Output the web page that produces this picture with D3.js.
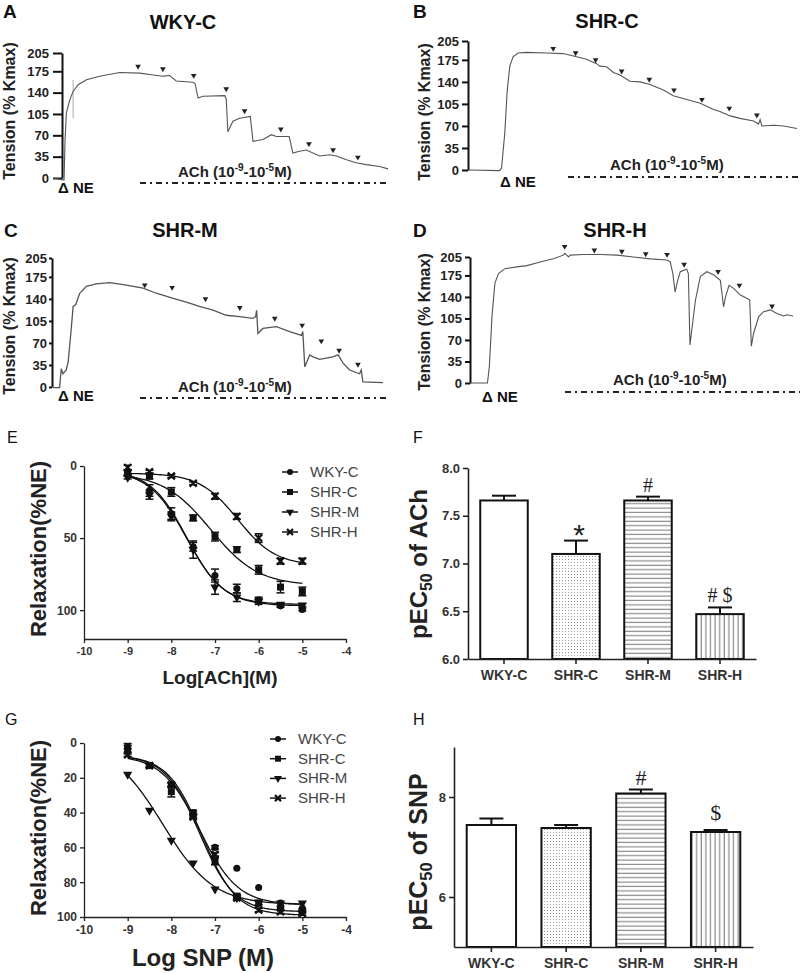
<!DOCTYPE html>
<html><head><meta charset="utf-8">
<script src="https://cdn.jsdelivr.net/npm/d3@7"></script>
<style>body{margin:0;background:#fff}</style>
</head><body><svg id="c" width="800" height="973"></svg>
<script>
// ---------------- DATA ----------------
const tensionTicks = [0, 35, 70, 105, 140, 175, 205];
const groups = ["WKY-C", "SHR-C", "SHR-M", "SHR-H"];

// Isometric tension traces (time as % of record length, tension as % Kmax)
const traceA_t = [0,3.0,3.3,3.6,4.0,5.0,6.0,7.5,10.0,13.9,19.9,25.9,29.9,32.8,34.8,36.8,41.8,42.4,43.3,44.8,51.3,51.7,52.2,53.7,55.7,58.9,59.7,62.7,65.2,66.7,70.5,71.6,73.6,75.6,79.6,82.6,84.6,87.6,90.5,93.5,97.5,100];
const traceA_v = [0,-3,-3,63,107,128,142,153,161,167,173,172,169,167,168,159,157,155,131,134,135,130,76,93,98,101,60,63,71,68,68,41,44,46,36,38,36,30,25,22,19,15];
const arrowA_t = [25.4,32.8,42.0,51.7,57.2,68.0,76.4,83.6,91.0];
const arrowA_v = [183,179,168,146,110,80,56,46,34];

const traceB_t = [0,9.6,10.2,11.2,11.9,12.7,13.7,15.2,17.8,23.9,28.9,33.0,36.0,39.1,40.1,42.1,44.2,46.2,49.2,52.3,55.3,59.4,62.4,66.5,70.6,74.6,76.6,79.7,82.7,86.8,88.3,88.8,89.3,92.9,95.9,100];
const traceB_v = [0,-1,3,60,125,165,180,186,187,186,185,180,176,169,165,164,155,151,141,140,136,127,118,112,106,96,93,86,82,78,73,80,70,71,70,66];
const arrowB_t = [25.9,32.7,38.8,46.7,55.1,62.6,71.1,79.4,87.8];
const arrowB_v = [193,186,175,157,144,127,112,98,87];

const traceC_t = [0,2.0,2.5,3.0,4.0,4.6,5.4,6.1,6.9,8.1,10.1,13.1,17.2,22.2,27.3,31.3,36.4,40.4,44.4,48.5,52.5,56.6,60.6,61.4,61.7,62.1,63.6,67.7,71.7,75.3,75.7,76.3,77.8,78.8,80.8,84.8,86.4,87.9,89.9,92.9,93.4,93.9,100];
const traceC_v = [-1,-1,29,21,27,40,85,128,131,149,160,164,166,162,157,149,141,135,128,122,114,112,109,112,122,85,93,96,88,82,88,32,51,48,44,48,51,38,27,21,27,8,7];
const arrowC_t = [27.8,36.1,46.2,56.6,67.2,75.5,81.3,86.7,92.4];
const arrowC_v = [162,158,140,126,109,98,73,58,36];

const traceD_t = [0,5.4,6.0,6.8,7.7,8.8,10.8,14.5,17.6,21.7,25.8,28.9,29.4,30.5,31.0,35.1,40.3,45.5,50.6,55.8,60.9,62.0,62.8,63.5,64.3,65.1,67.1,67.6,68.1,68.8,69.8,71.3,73.3,75.4,77.5,78.0,78.5,79.1,80.2,81.6,83.7,85.7,86.6,87.1,87.8,89.4,90.9,93.0,95.0,97.1,98.1,100];
const traceD_v = [0,0,27,108,162,178,186,189,191,197,202,208,211,205,208,209,209,208,205,202,200,197,178,148,167,181,185,178,62,92,135,173,181,176,167,146,124,140,159,154,143,138,135,60,81,108,116,119,113,109,111,109];
const arrowD_t = [29.3,38.5,47.0,54.4,61.0,66.3,76.8,83.4,93.5];
const arrowD_v = [222,216,214,210,209,193,181,159,125];

// Concentration-response (E: ACh, G: SNP)
const logConc = [-9,-8.5,-8,-7.5,-7,-6.5,-6,-5.5,-5];
const achWKYC = [4.6,17,33,56,76,85,93,97,99.5];
const achSHRC = [5,7,18,36,49,58,72,84,87];
const achSHRM = [8,20,35,58,84,91,94,96,96.5];
const achSHRH = [1,4,7,12,21,35,50,66,66];
const achWKYC_err = [1.5,4,4,3,4.5,3,2,1,1];
const achSHRC_err = [2,2,3,2,3,2,3,4,3];
const achSHRM_err = [1,3,3,6,5,3,2,1,1];
const achSHRH_err = [1.5,1,1,1,2,2,3,2,2];
const achTop = [3,5,3,5];
const achBottom = [97,83,96,69];
const achLogEC50 = [-7.65,-7.1,-7.65,-6.48];
const achHill = [1,0.8,1.05,1];

const snpWKYC = [2.3,12.8,24,41.6,60,72,83,92,95];
const snpSHRC = [3.3,13,28,40,68,88,92,95,96.5];
const snpSHRM = [18,38.7,56,69,84,89,91.4,92,92];
const snpSHRH = [6.7,13,24,42.5,64,89,96,97,98];
const snpWKYC_err = [1,1,1,1,1,0,0,0,0];
const snpSHRC_err = [3,1,3,1,2,1,1,1,1];
const snpSHRM_err = [0,0,0,0,0,0,0,0,0];
const snpSHRH_err = [1,1,1,1,1,1,1,1,1];
const snpTop = [7,7,0,7];
const snpBottom = [93,97,93,99];
const snpLogEC50 = [-7.35,-7.35,-8.2,-7.3];
const snpHill = [1,1.1,0.75,1.1];

// pEC50 bar charts (F: ACh, H: SNP)
const pec50ACh = [7.66,7.10,7.66,6.47];
const pec50ACh_err = [0.05,0.14,0.04,0.07];
const pec50ACh_sig = ["", "*", "#", "# $"];
const pec50SNP = [7.44,7.38,8.07,7.30];
const pec50SNP_err = [0.13,0.06,0.08,0.04];
const pec50SNP_sig = ["", "", "#", "$"];

// ---------------- DRAWING ----------------
const FONT = "Liberation Sans, Arial, sans-serif";
const SERIF = "Liberation Serif, Times New Roman, serif";
const svg = d3.select("#c").attr("font-family", FONT);
svg.append("rect").attr("width", 800).attr("height", 973).attr("fill", "#fff");

// patterns
const defs = svg.append("defs");
const pDot = defs.append("pattern").attr("id","dots").attr("patternUnits","userSpaceOnUse").attr("width",3).attr("height",3);
pDot.append("rect").attr("width",3).attr("height",3).attr("fill","#fff");
pDot.append("rect").attr("x",1).attr("y",1).attr("width",1).attr("height",1).attr("fill","#9a9a9a");
const pH = defs.append("pattern").attr("id","hlines").attr("patternUnits","userSpaceOnUse").attr("width",6).attr("height",4.4);
pH.append("rect").attr("width",6).attr("height",4.4).attr("fill","#fff");
pH.append("rect").attr("y",1.5).attr("width",6).attr("height",1.2).attr("fill","#8a8a8a");
const pV = defs.append("pattern").attr("id","vlines").attr("patternUnits","userSpaceOnUse").attr("width",4.6).attr("height",6);
pV.append("rect").attr("width",4.6).attr("height",6).attr("fill","#fff");
pV.append("rect").attr("x",1.5).attr("width",1.2).attr("height",6).attr("fill","#8a8a8a");
const fills = ["#fff", "url(#dots)", "url(#hlines)", "url(#vlines)"];

function styleAxis(g, sw, color, fs, fw, tc) {
  g.attr("font-family", FONT);
  g.select(".domain").attr("stroke", color).attr("stroke-width", sw);
  g.selectAll(".tick line").attr("stroke", color).attr("stroke-width", sw);
  g.selectAll(".tick text").attr("font-size", fs).attr("font-weight", fw).attr("fill", tc);
}

// panel letters
[["A",3,18,19,"bold"],["B",413,18,19,"bold"],["C",4,237,19,"bold"],["D",413,237,19,"bold"],
 ["E",7,443,16,"normal"],["F",413,443,16,"normal"],["G",5,725,16,"normal"],["H",413,725,16,"normal"]]
 .forEach(([t,x,y,fs,fw]) => svg.append("text").attr("x",x).attr("y",y).attr("font-size",fs).attr("font-weight",fw).attr("fill","#111").text(t));

function achLabel(x, y) {
  const t = svg.append("text").attr("x", x).attr("y", y).attr("font-size", 15).attr("font-weight", "bold").attr("fill", "#222");
  t.append("tspan").text("ACh (10");
  t.append("tspan").attr("dy", -6).attr("font-size", 10).text("-9");
  t.append("tspan").attr("dy", 6).text("-10");
  t.append("tspan").attr("dy", -6).attr("font-size", 10).text("-5");
  t.append("tspan").attr("dy", 6).text("M)");
}

function tracePanel(o) {
  const x = d3.scaleLinear().domain([0, 100]).range([o.x0, o.x1]);
  const y = d3.scaleLinear().domain([0, 205]).range([o.yb, o.yt]);
  const ax = svg.append("g").attr("transform", `translate(${o.ax},0)`)
    .call(d3.axisLeft(y).tickValues(tensionTicks).tickSize(o.ts).tickPadding(o.tp).tickSizeOuter(0));
  styleAxis(ax, 2, "#111", 13, "bold", "#222");
  svg.append("text").attr("x", o.cx).attr("y", o.ty).attr("text-anchor", "middle")
    .attr("font-size", 20).attr("font-weight", "bold").attr("fill", "#111").text(o.title);
  svg.append("text").attr("transform", `translate(${o.yx},${o.yc}) rotate(-90)`).attr("text-anchor", "middle")
    .attr("font-size", 16).attr("font-weight", "bold").attr("fill", "#222").text("Tension (% Kmax)");
  const pts = o.t.map((t, i) => [t, o.v[i]]);
  if (o.mark !== undefined) {
    svg.append("line").attr("x1", x(o.mark[0])).attr("x2", x(o.mark[0])).attr("y1", y(o.mark[1])).attr("y2", y(o.mark[2]))
      .attr("stroke", "#aaa").attr("stroke-width", 1);
  }
  svg.append("path").datum(pts).attr("d", d3.line().x(d => x(d[0])).y(d => y(d[1])))
    .attr("fill", "none").attr("stroke", "#555").attr("stroke-width", o.sw || 1.1);
  const tri = d3.symbol(d3.symbolTriangle, 14);
  o.at.forEach((t, i) => svg.append("path").attr("d", tri())
    .attr("transform", `translate(${x(t)},${y(o.av[i])}) rotate(180)`).attr("fill", "#222"));
  svg.append("text").attr("x", o.nx).attr("y", o.ny).attr("font-size", 15).attr("font-weight", "bold").attr("fill", "#111").text("\u0394 NE");
  svg.append("line").attr("x1", o.dx0).attr("x2", o.dx1).attr("y1", o.dy).attr("y2", o.dy)
    .attr("stroke", "#222").attr("stroke-width", 2).attr("stroke-dasharray", "6,4,2,4");
  achLabel(o.lx, o.ly);
}

tracePanel({title:"WKY-C", t:traceA_t, v:traceA_v, at:arrowA_t, av:arrowA_v, x0:53, x1:388, yb:178, yt:53, ax:62, ts:9, tp:4,
  cx:183, ty:29, yx:15, yc:111, nx:58, ny:193, dx0:140, dx1:388, dy:183, lx:178, ly:177, mark:[6,98,161]});
tracePanel({title:"SHR-C", t:traceB_t, v:traceB_v, at:arrowB_t, av:arrowB_v, x0:468, x1:797, yb:170, yt:41, ax:468, ts:6, tp:3,
  cx:607, ty:28, yx:430, yc:112, nx:500, ny:187, dx0:568, dx1:800, dy:177, lx:610, ly:170});
tracePanel({title:"SHR-M", t:traceC_t, v:traceC_v, at:arrowC_t, av:arrowC_v, x0:53, x1:383, yb:387, yt:258, ax:52, ts:3, tp:2,
  cx:185, ty:237, yx:15, yc:326, nx:58, ny:401, dx0:140, dx1:388, dy:398, lx:178, ly:392, sw:1.3});
tracePanel({title:"SHR-H", t:traceD_t, v:traceD_v, at:arrowD_t, av:arrowD_v, x0:470, x1:793, yb:383, yt:257, ax:470, ts:5, tp:3,
  cx:615, ty:237, yx:430, yc:322, nx:482, ny:402, dx0:565, dx1:800, dy:392, lx:613, ly:385});

// ---- concentration-response panels ----
function markerPath(type, s) {
  if (type === "circle") return d3.symbol(d3.symbolCircle, s * s * 0.8)();
  if (type === "square") return d3.symbol(d3.symbolSquare, s * s)();
  if (type === "tri") return d3.symbol(d3.symbolTriangle, s * s * 0.75)();
  const h = s / 2;
  return `M${-h},${-h}L${h},${h}M${-h},${h}L${h},${-h}`;
}
const mTypes = ["circle", "square", "tri", "x"];
function drawMarker(g, type, cx, cy, s) {
  const p = g.append("path").attr("d", markerPath(type, s)).attr("transform", `translate(${cx},${cy})` + (type === "tri" ? " rotate(180)" : ""));
  if (type === "x") p.attr("fill", "none").attr("stroke", "#111").attr("stroke-width", 2.2);
  else p.attr("fill", "#111");
}

function crPanel(o) {
  const x = d3.scaleLinear().domain([-10, -4]).range([84, 346]);
  const y = d3.scaleLinear().domain(o.ydom).range([o.y0, o.y1]);
  const g = svg.append("g");
  const xa = g.append("g").attr("transform", `translate(0,${o.y1})`)
    .call(d3.axisBottom(x).tickValues(d3.range(-10, -3)).tickFormat(d => String(d)).tickSize(4).tickPadding(4).tickSizeOuter(0));
  styleAxis(xa, 1.3, "#222", o.xfs, "bold", "#333");
  const ya = g.append("g").attr("transform", "translate(84,0)")
    .call(d3.axisLeft(y).tickValues(o.yticks).tickSize(4).tickPadding(3).tickSizeOuter(0));
  styleAxis(ya, 1.3, "#222", 12, "bold", "#333");
  // fitted curves
  const xs = d3.range(-9, -4.999, 0.05);
  o.series.forEach((s, k) => {
    const f = xv => o.top[k] + (o.bottom[k] - o.top[k]) / (1 + Math.pow(10, (o.ec50[k] - xv) * o.hill[k]));
    g.append("path").datum(xs).attr("d", d3.line().x(d => x(d)).y(d => y(f(d))))
      .attr("fill", "none").attr("stroke", "#111").attr("stroke-width", 1.3);
  });
  // error bars + markers
  o.series.forEach((s, k) => {
    s.forEach((v, i) => {
      const e = o.errs[k][i];
      if (e > 0) {
        const cx = x(logConc[i]);
        g.append("line").attr("x1", cx).attr("x2", cx).attr("y1", y(v - e)).attr("y2", y(v + e)).attr("stroke", "#111").attr("stroke-width", 1.5);
        [v - e, v + e].forEach(w => g.append("line").attr("x1", cx - 4).attr("x2", cx + 4).attr("y1", y(w)).attr("y2", y(w)).attr("stroke", "#111").attr("stroke-width", 1.5));
      }
      drawMarker(g, mTypes[k], x(logConc[i]), y(v), 7);
    });
  });
  // legend
  groups.forEach((name, k) => {
    const ly = o.legY + k * o.legDy;
    g.append("line").attr("x1", o.legX - 8).attr("x2", o.legX + 8).attr("y1", ly).attr("y2", ly).attr("stroke", "#111").attr("stroke-width", 1.5);
    drawMarker(g, mTypes[k], o.legX, ly, 6);
    g.append("text").attr("x", o.legX + 20).attr("y", ly + 5).attr("font-size", 15).attr("fill", "#444").text(name);
  });
  g.append("text").attr("x", o.xlx).attr("y", o.xly).attr("text-anchor", "middle").attr("font-size", o.xlfs)
    .attr("font-weight", "bold").attr("fill", "#222").text(o.xlabel);
  g.append("text").attr("transform", `translate(46,${o.ylc}) rotate(-90)`).attr("text-anchor", "middle")
    .attr("font-size", 22).attr("font-weight", "bold").attr("fill", "#222").text("Relaxation(%NE)");
}

crPanel({ydom:[0,120], y0:466, y1:639, yticks:[0,50,100], xfs:11,
  series:[achWKYC,achSHRC,achSHRM,achSHRH], errs:[achWKYC_err,achSHRC_err,achSHRM_err,achSHRH_err],
  top:achTop, bottom:achBottom, ec50:achLogEC50, hill:achHill,
  legX:290, legY:472, legDy:20, xlabel:"Log[ACh](M)", xlx:220, xly:684, xlfs:19, ylc:549});
crPanel({ydom:[0,100], y0:743, y1:917, yticks:[0,20,40,60,80,100], xfs:12,
  series:[snpWKYC,snpSHRC,snpSHRM,snpSHRH], errs:[snpWKYC_err,snpSHRC_err,snpSHRM_err,snpSHRH_err],
  top:snpTop, bottom:snpBottom, ec50:snpLogEC50, hill:snpHill,
  legX:278, legY:739, legDy:19.7, xlabel:"Log SNP (M)", xlx:203, xly:966, xlfs:24, ylc:828});

// ---- pEC50 bar panels ----
function barPanel(o) {
  const x = d3.scaleBand().domain(groups).range([o.xa, o.xb]).paddingInner(0.34).paddingOuter(0.17);
  const y = d3.scaleLinear().domain(o.ydom).range([o.y0, o.y1]);
  const g = svg.append("g");
  g.selectAll("rect.bar").data(o.vals).join("rect").attr("class", "bar")
    .attr("x", (d, i) => x(groups[i])).attr("width", x.bandwidth())
    .attr("y", d => y(d)).attr("height", d => y(o.ydom[0]) - y(d))
    .attr("fill", (d, i) => fills[i]).attr("stroke", "#111").attr("stroke-width", 2);
  o.vals.forEach((v, i) => {
    const cx = x(groups[i]) + x.bandwidth() / 2;
    const top = y(v + o.errs[i]);
    g.append("line").attr("x1", cx).attr("x2", cx).attr("y1", y(v)).attr("y2", top).attr("stroke", "#111").attr("stroke-width", 2);
    g.append("line").attr("x1", cx - 12).attr("x2", cx + 12).attr("y1", top).attr("y2", top).attr("stroke", "#111").attr("stroke-width", 2);
    const s = o.sig[i];
    if (s) {
      const star = s === "*";
      g.append("text").attr("x", cx + (star ? 3 : 0)).attr("y", top - (star ? -4 : o.sigOff[i]))
        .attr("text-anchor", "middle").attr("font-family", star ? FONT : SERIF)
        .attr("font-size", star ? 30 : o.sigFs).attr("fill", "#222").text(s);
    }
  });
  const xa = g.append("g").attr("transform", `translate(0,${o.y0})`)
    .call(d3.axisBottom(x).tickSize(5).tickPadding(6).tickSizeOuter(0));
  styleAxis(xa, 1.6, "#222", 14, "bold", "#333");
  const ya = g.append("g").attr("transform", `translate(${o.xa},0)`)
    .call(d3.axisLeft(y).tickValues(o.yticks).tickFormat(o.fmt).tickSize(5).tickPadding(3).tickSizeOuter(0));
  styleAxis(ya, 1.6, "#222", 13, "bold", "#333");
  const t = g.append("text").attr("transform", `translate(427,${o.ylc}) rotate(-90)`).attr("text-anchor", "middle")
    .attr("font-size", o.ylfs).attr("font-weight", "bold").attr("fill", "#222");
  t.append("tspan").text("pEC");
  t.append("tspan").attr("dy", 5).attr("font-size", o.ylfs * 0.66).text("50");
  t.append("tspan").attr("dy", -5).text(" of " + o.agent);
}

barPanel({xa:468, xb:756, ydom:[6,8], y0:659, y1:468, yticks:[6,6.5,7,7.5,8], fmt:d3.format(".1f"),
  vals:pec50ACh, errs:pec50ACh_err, sig:pec50ACh_sig, sigOff:[0,0,5,5], sigFs:20, agent:"ACh", ylc:564, ylfs:24});
barPanel({xa:454, xb:753, ydom:[5,9], y0:947, y1:747, yticks:[6,8], fmt:d3.format("d"),
  vals:pec50SNP, errs:pec50SNP_err, sig:pec50SNP_sig, sigOff:[0,0,5,10], sigFs:22, agent:"SNP", ylc:852, ylfs:25});
</script></body></html>
